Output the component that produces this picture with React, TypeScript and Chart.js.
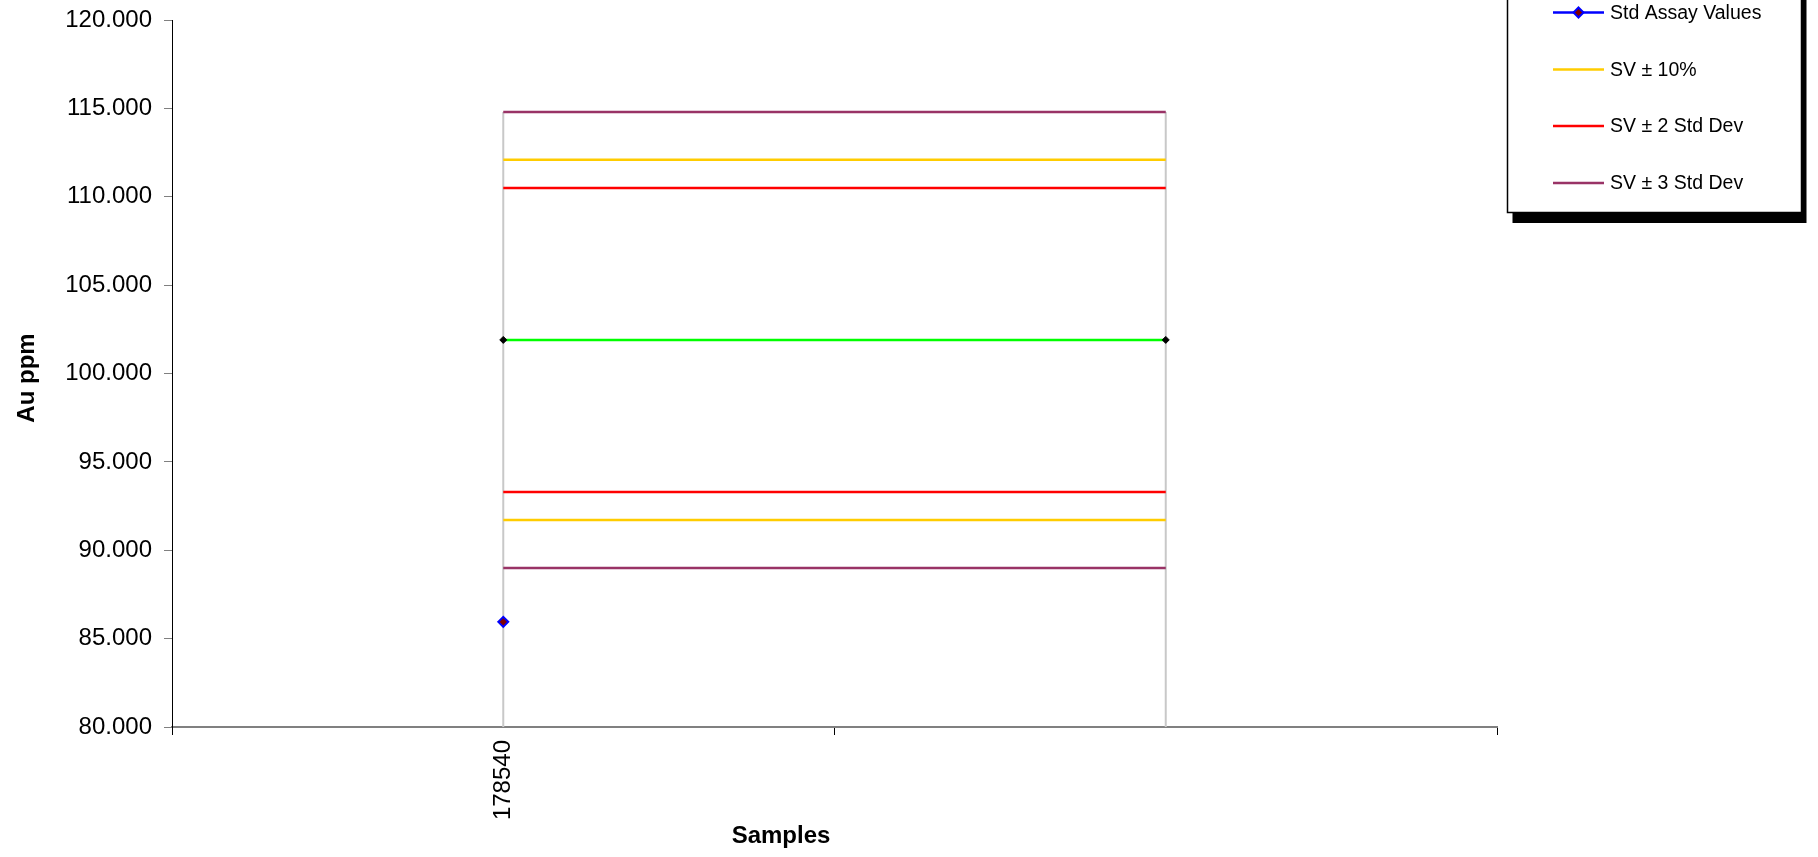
import React, { useEffect, useRef } from "react";
import { Chart, registerables } from "chart.js";

Chart.register(...registerables);

const categories: string[] = ["178540", ""];
const assayValues: (number | null)[] = [85.95, null];
const standardValue: number[] = [101.9, 101.9];
const tenPctUpper: number[] = [112.09, 112.09];
const tenPctLower: number[] = [91.71, 91.71];
const twoSdUpper: number[] = [110.5, 110.5];
const twoSdLower: number[] = [93.3, 93.3];
const threeSdUpper: number[] = [114.8, 114.8];
const threeSdLower: number[] = [89.0, 89.0];
const legendLabels: string[] = ["Std Assay Values", "SV ± 10%", "SV ± 2 Std Dev", "SV ± 3 Std Dev"];
const xTitle = "Samples";
const yTitle = "Au ppm";

const FONT = "'Liberation Sans', Arial, sans-serif";

const dropLines = {
  id: "dropLines",
  beforeDatasetsDraw(chart: any) {
    const { ctx, chartArea, scales } = chart;
    const n = chart.data.labels.length;
    ctx.save();
    ctx.strokeStyle = "#c8c8c8";
    ctx.lineWidth = 2;
    for (let i = 0; i < n; i++) {
      let max = -Infinity;
      chart.data.datasets.forEach((ds: any) => {
        const v = ds.data[i];
        if (v != null && v > max) max = v;
      });
      if (!isFinite(max)) continue;
      const x = scales.x.getPixelForValue(i);
      const y = scales.y.getPixelForValue(max);
      ctx.beginPath();
      ctx.moveTo(x, y);
      ctx.lineTo(x, chartArea.bottom);
      ctx.stroke();
    }
    ctx.restore();
  },
};

const axisTitles = {
  id: "axisTitles",
  afterDraw(chart: any) {
    const { ctx } = chart;
    ctx.save();
    ctx.fillStyle = "#000";
    ctx.font = `bold 24px ${FONT}`;
    ctx.textAlign = "center";
    ctx.textBaseline = "middle";
    ctx.fillText(xTitle, 781, 836);
    ctx.translate(27, 378);
    ctx.rotate(-Math.PI / 2);
    ctx.fillText(yTitle, 0, 0);
    ctx.restore();
  },
};

const boxLegend = {
  id: "boxLegend",
  afterDraw(chart: any) {
    const { ctx } = chart;
    const left = 1507.5, right = 1801.5, top = -10, bottom = 212.5;
    ctx.save();
    ctx.fillStyle = "#000";
    ctx.fillRect(left + 5, top + 5, right - left, bottom - top + 5.5);
    ctx.fillStyle = "#fff";
    ctx.fillRect(left, top, right - left, bottom - top);
    ctx.strokeStyle = "#000";
    ctx.lineWidth = 1.5;
    ctx.strokeRect(left, top, right - left, bottom - top);
    const ys = [12.5, 69.5, 126, 183];
    legendLabels.forEach((label, i) => {
      const ds = chart.data.datasets.find((d: any) => d.label === label);
      if (!ds) return;
      const y = ys[i];
      ctx.strokeStyle = ds.borderColor;
      ctx.lineWidth = 2.5;
      ctx.beginPath();
      ctx.moveTo(1553, y);
      ctx.lineTo(1604, y);
      ctx.stroke();
      if (ds.pointRadius > 0) {
        const r = ds.pointRadius;
        ctx.beginPath();
        ctx.moveTo(1578.5, y - r);
        ctx.lineTo(1578.5 + r, y);
        ctx.lineTo(1578.5, y + r);
        ctx.lineTo(1578.5 - r, y);
        ctx.closePath();
        ctx.fillStyle = ds.pointBackgroundColor;
        ctx.fill();
        ctx.strokeStyle = ds.pointBorderColor;
        ctx.lineWidth = 2;
        ctx.stroke();
      }
      ctx.fillStyle = "#000";
      ctx.font = `19.5px ${FONT}`;
      ctx.textAlign = "left";
      ctx.textBaseline = "middle";
      ctx.fillText(label, 1610, y + 1);
    });
    ctx.restore();
  },
};

function limitLine(label: string, data: number[], color: string) {
  return {
    label,
    data,
    borderColor: color,
    backgroundColor: color,
    borderWidth: 2.5,
    pointRadius: 0,
    pointHoverRadius: 0,
    fill: false,
  };
}

export default function App() {
  const ref = useRef<HTMLCanvasElement>(null);
  useEffect(() => {
    if (!ref.current) return;
    Chart.defaults.font.family = FONT;
    const chart = new Chart(ref.current, {
      type: "line",
      data: {
        labels: categories,
        datasets: [
          {
            label: "Std Assay Values",
            data: assayValues,
            borderColor: "#0000ff",
            backgroundColor: "#0000ff",
            borderWidth: 2.5,
            pointStyle: "rectRot",
            pointRadius: 5,
            pointBackgroundColor: "#800000",
            pointBorderColor: "#0000ff",
            pointBorderWidth: 2,
          },
          {
            label: "Standard Value",
            data: standardValue,
            borderColor: "#00ff00",
            backgroundColor: "#00ff00",
            borderWidth: 2.5,
            pointStyle: "rectRot",
            pointRadius: 3.5,
            pointBackgroundColor: "#000",
            pointBorderColor: "#000",
            pointBorderWidth: 1,
          },
          limitLine("SV ± 10%", tenPctUpper, "#ffcc00"),
          limitLine("SV - 10%", tenPctLower, "#ffcc00"),
          limitLine("SV ± 2 Std Dev", twoSdUpper, "#ff0000"),
          limitLine("SV - 2 Std Dev", twoSdLower, "#ff0000"),
          limitLine("SV ± 3 Std Dev", threeSdUpper, "#993366"),
          limitLine("SV - 3 Std Dev", threeSdLower, "#993366"),
        ] as any,
      },
      options: {
        animation: false,
        responsive: false,
        events: [],
        layout: { padding: { left: 0, top: 20, right: 321, bottom: 0 } },
        plugins: { legend: { display: false }, tooltip: { enabled: false } },
        scales: {
          x: {
            type: "category",
            offset: true,
            afterFit: (s: any) => {
              s.height = 130;
              s.paddingLeft = 0;
              s.paddingRight = 0;
            },
            grid: {
              offset: true,
              drawOnChartArea: false,
              drawTicks: true,
              tickLength: 8,
              tickColor: "#000",
            },
            border: { color: "#808080", width: 2 },
            ticks: {
              font: { size: 24 },
              color: "#000",
              minRotation: 90,
              maxRotation: 90,
              autoSkip: false,
              padding: 5,
            },
            title: { display: false, text: xTitle },
          },
          y: {
            min: 80,
            max: 120,
            afterFit: (s: any) => {
              s.width = 172;
              s.paddingTop = 0;
              s.paddingBottom = 0;
            },
            grid: {
              drawOnChartArea: false,
              drawTicks: true,
              tickLength: 8,
              tickColor: "#808080",
            },
            border: { color: "#000", width: 1 },
            ticks: {
              stepSize: 5,
              font: { size: 24 },
              color: "#000",
              padding: 12,
              callback: (v: any) => Number(v).toFixed(3),
            },
            title: { display: false, text: yTitle },
          },
        },
      },
      plugins: [dropLines, axisTitles, boxLegend],
    });
    return () => chart.destroy();
  }, []);
  return (
    <div style={{ position: "fixed", left: 0, top: 0, width: 1818, height: 857, background: "#fff" }}>
      <canvas ref={ref} width={1818} height={857} style={{ display: "block" }} />
    </div>
  );
}
